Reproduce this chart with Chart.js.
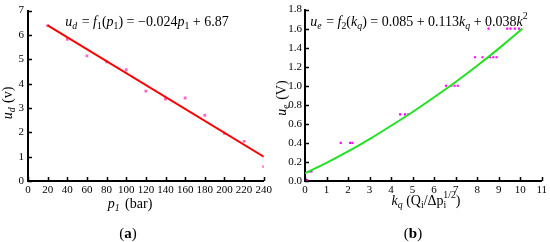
<!DOCTYPE html>
<html>
<head>
<meta charset="utf-8">
<script src="https://cdn.jsdelivr.net/npm/chart.js@4/dist/chart.umd.min.js"></script>
<style>
  html, body { margin: 0; padding: 0; background: #fff; }
  #wrap { position: relative; width: 550px; height: 242px; }
  canvas { position: absolute; top: 0; }
  #ca { left: 0; }
  #cb { left: 275px; }
</style>
</head>
<body>
<div id="wrap">
  <canvas id="ca" width="275" height="242"></canvas>
  <canvas id="cb" width="275" height="242"></canvas>
</div>
<script>
// (a) ud vs p1
const pressure = [20, 40, 60, 80, 100, 120, 140, 160, 180, 200, 220, 240];
const udMeasured = [6.38, 5.82, 5.14, 4.90, 4.57, 3.69, 3.37, 3.41, 2.70, 1.96, 1.63, 0.59];
const udFitX = [20, 240];
const udFitY = [6.39, 1.0];
const pTicks = [0, 20, 40, 60, 80, 100, 120, 140, 160, 180, 200, 220, 240];
const udTicks = [0, 1, 2, 3, 4, 5, 6, 7];

// (b) ue vs kq
const kq = [0.05, 0.1, 0.23, 0.3, 1.66, 2.1, 2.2, 4.42, 4.65, 4.8, 6.55, 6.8, 6.95, 7.1,
            7.9, 8.25, 8.6, 8.75, 8.9, 8.53, 9.4, 9.55, 9.75, 9.95];
const ueMeasured = [0.01, 0.01, 0.1, 0.1, 0.4, 0.4, 0.4, 0.7, 0.7, 0.7, 1.0, 1.0, 1.0, 1.0,
                    1.3, 1.3, 1.3, 1.3, 1.3, 1.6, 1.6, 1.6, 1.6, 1.6];
const ueFitX = [0, 1, 2, 3, 4, 5, 6, 7, 8, 9, 10, 10.1];
const ueFitY = [0.08, 0.19, 0.31, 0.44, 0.58, 0.725, 0.88, 1.04, 1.21, 1.39, 1.58, 1.60];
const kTicks = [0, 1, 2, 3, 4, 5, 6, 7, 8, 9, 10, 11];
const ueTicks = [0, 0.2, 0.4, 0.6, 0.8, 1.0, 1.2, 1.4, 1.6, 1.8];

const FONT = "'Liberation Serif', 'Times New Roman', serif";
const pts = (xs, ys) => xs.map((x, i) => ({ x: x, y: ys[i] }));

// draw a row of text runs with italic / sub / sup parts
function richWidth(ctx, runs, size) {
  let w = 0;
  runs.forEach(r => {
    const s = (r.sub || r.sup) ? size * 0.7 : size;
    ctx.font = (r.i ? 'italic ' : '') + (r.b ? 'bold ' : '') + s + 'px ' + FONT;
    w += ctx.measureText(r.t).width + (r.gap || 0) - (r.back || 0);
  });
  return w;
}
function drawRich(ctx, runs, cx, cy, size) {
  ctx.save();
  ctx.fillStyle = '#000';
  ctx.textBaseline = 'middle';
  ctx.textAlign = 'left';
  let x = cx - richWidth(ctx, runs, size) / 2;
  runs.forEach(r => {
    const s = (r.sub || r.sup) ? size * 0.7 : size;
    ctx.font = (r.i ? 'italic ' : '') + (r.b ? 'bold ' : '') + s + 'px ' + FONT;
    let dy = 0;
    if (r.sub) dy = size * 0.3;
    if (r.sup) dy = -size * 0.4;
    ctx.fillText(r.t, x, cy + dy);
    x += ctx.measureText(r.t).width + (r.gap || 0) - (r.back || 0);
  });
  ctx.restore();
}

// inward tick marks + texts
function decor(texts) {
  return {
    id: 'decor',
    afterDraw(chart) {
      const ctx = chart.ctx;
      const xs = chart.scales.x, ys = chart.scales.y;
      const a = chart.chartArea;
      ctx.save();
      ctx.strokeStyle = '#000';
      ctx.lineWidth = 1.5;
      ctx.beginPath();
      xs.ticks.forEach(t => {
        const px = Math.round(xs.getPixelForValue(t.value)) + 0.5;
        ctx.moveTo(px, a.bottom);
        ctx.lineTo(px, a.bottom - 4);
      });
      ys.ticks.forEach(t => {
        const py = Math.round(ys.getPixelForValue(t.value)) + 0.5;
        ctx.moveTo(a.left, py);
        ctx.lineTo(a.left + 4, py);
      });
      ctx.stroke();
      ctx.restore();
      texts.forEach(tx => {
        if (tx.rot) {
          ctx.save();
          ctx.translate(tx.x, tx.y);
          ctx.rotate(-Math.PI / 2);
          drawRich(ctx, tx.runs, 0, 0, tx.size);
          ctx.restore();
        } else {
          drawRich(ctx, tx.runs, tx.x, tx.y, tx.size);
        }
      });
    }
  };
}

function axisOpts(min, max, ticks, fmt, pad, fit) {
  return {
    type: 'linear', min: min, max: max,
    afterBuildTicks: s => { s.ticks = ticks.map(v => ({ value: v })); },
    afterFit: fit,
    grid: { display: false, drawTicks: false },
    border: { display: true, color: '#000', width: 2 },
    ticks: { color: '#000', padding: pad, autoSkip: false, maxRotation: 0, minRotation: 0,
             font: { family: FONT, size: 11 }, callback: fmt }
  };
}

function makeChart(id, cfg) {
  return new Chart(document.getElementById(id), {
    type: 'scatter',
    data: { datasets: cfg.datasets },
    options: {
      responsive: false,
      animation: false,
      layout: { padding: cfg.padding },
      plugins: { legend: { display: false }, tooltip: { enabled: false } },
      scales: { x: cfg.x, y: cfg.y }
    },
    plugins: [decor(cfg.texts)]
  });
}

makeChart('ca', {
  padding: { top: 7, right: 11, left: 0, bottom: 0 },
  datasets: [
    { data: pts(udFitX, udFitY), showLine: true, borderColor: '#ff0000', borderWidth: 2,
      pointRadius: 0 },
    { data: pts(pressure, udMeasured), pointStyle: 'rect', pointRadius: 2,
      backgroundColor: '#ff66cc', borderWidth: 0 }
  ],
  x: axisOpts(0, 240, pTicks, v => v, 3, s => { s.height = 61; }),
  y: axisOpts(0, 7, udTicks, v => v, 4, s => { s.width = 28; }),
  texts: [
    { x: 147, y: 22, size: 14, runs: [
      { t: 'u', i: 1 }, { t: 'd', i: 1, sub: 1, gap: 1 }, { t: ' = ' }, { t: 'f', i: 1 }, { t: '1', sub: 1 },
      { t: '(' }, { t: 'p', i: 1 }, { t: '1', sub: 1 }, { t: ') = \u22120.024' }, { t: 'p', i: 1 },
      { t: '1', sub: 1 }, { t: ' + 6.87' } ] },
    { x: 130, y: 204, size: 14, runs: [ { t: 'p', i: 1 }, { t: '1', i: 1, sub: 1, gap: 2 }, { t: ' (bar)' } ] },
    { x: 8, y: 103, size: 14, rot: 1, runs: [ { t: 'u', i: 1 }, { t: 'd', i: 1, sub: 1, gap: 1 }, { t: ' (v)' } ] },
    { x: 128, y: 234, size: 15, runs: [ { t: '(' }, { t: 'a', b: 1 }, { t: ')' } ] }
  ]
});

makeChart('cb', {
  padding: { top: 8, right: 8, left: 0, bottom: 0 },
  datasets: [
    { data: pts(ueFitX, ueFitY), showLine: true, borderColor: '#22e022', borderWidth: 2,
      pointRadius: 0, tension: 0.4, cubicInterpolationMode: 'monotone' },
    { data: pts(kq, ueMeasured), pointStyle: 'rect', pointRadius: 1.5,
      backgroundColor: '#ff00ff', borderWidth: 0 }
  ],
  x: axisOpts(0, 11, kTicks, v => v, 3, s => { s.height = 61; }),
  y: axisOpts(0, 1.8, ueTicks, v => v.toFixed(1), 3, s => { s.width = 30; }),
  texts: [
    { x: 144, y: 22, size: 14, runs: [
      { t: 'u', i: 1 }, { t: 'e', i: 1, sub: 1, gap: 1 }, { t: ' = ' }, { t: 'f', i: 1 }, { t: '2', sub: 1 },
      { t: '(' }, { t: 'k', i: 1 }, { t: 'q', i: 1, sub: 1 }, { t: ') = 0.085 + 0.113' }, { t: 'k', i: 1 },
      { t: 'q', i: 1, sub: 1 }, { t: ' + 0.038' }, { t: 'k', i: 1 }, { t: '2', sup: 1 } ] },
    { x: 151, y: 201, size: 14, runs: [
      { t: 'k', i: 1 }, { t: 'q', i: 1, sub: 1 }, { t: ' (Q' }, { t: 'i', sub: 1 }, { t: '/\u0394p' },
      { t: 'i', sub: 1, back: 3 }, { t: '1/2', sup: 1 }, { t: ')' } ] },
    { x: 7, y: 98, size: 14, rot: 1, runs: [ { t: 'u', i: 1 }, { t: 'e', i: 1, sub: 1, gap: 1 }, { t: ' (V)' } ] },
    { x: 138, y: 234, size: 15, runs: [ { t: '(' }, { t: 'b', b: 1 }, { t: ')' } ] }
  ]
});
</script>
</body>
</html>
